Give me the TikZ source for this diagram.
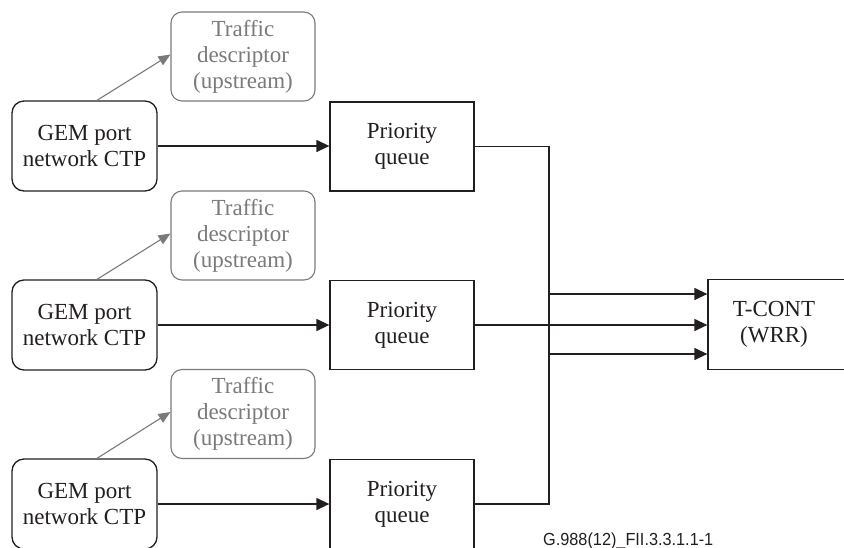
\documentclass[tikz,border=0pt]{standalone}
\usepackage{fontspec}
\setmainfont{Liberation Serif}
\newfontfamily\labelfont{Liberation Sans}
\usetikzlibrary{arrows.meta}
\definecolor{ink}{HTML}{231F20}
\definecolor{greyink}{HTML}{7A7A7A}
\begin{document}
\begin{tikzpicture}[x=1pt,y=-1pt,
  every node/.style={align=center,inner sep=0pt,font=\fontsize{23}{26}\selectfont},
  gembox/.style={draw=ink,line width=1.3pt,rounded corners=12pt,minimum width=145pt,minimum height=90pt,text=ink},
  tdbox/.style={draw=greyink,line width=1.1pt,rounded corners=11pt,minimum width=144pt,minimum height=89pt,text=greyink},
  pqbox/.style={draw=ink,line width=1.3pt,minimum width=144pt,minimum height=89pt,text=ink},
  flow/.style={draw=ink,line width=1.3pt,-{Triangle[length=13pt,width=12pt]}},
  gflow/.style={draw=greyink,line width=1.1pt,-{Triangle[length=12pt,width=10pt]}}]
\useasboundingbox (0,0) rectangle (844,547);
\fill[white] (0,0) rectangle (844,547);
% row 1
\node[tdbox] (td1) at (243,56.5) {Traffic\\descriptor\\(upstream)};
\node[gembox] (gem1) at (84.5,146) {GEM port\\network CTP};
\node[pqbox] (pq1) at (402,146.5) {Priority\\queue};
% row 2
\node[tdbox] (td2) at (243,235.5) {Traffic\\descriptor\\(upstream)};
\node[gembox] (gem2) at (84.5,325) {GEM port\\network CTP};
\node[pqbox] (pq2) at (402,325) {Priority\\queue};
% row 3
\node[tdbox] (td3) at (243,414) {Traffic\\descriptor\\(upstream)};
\node[gembox] (gem3) at (84.5,504) {GEM port\\network CTP};
\node[pqbox] (pq3) at (402,504) {Priority\\queue};
% T-CONT
\node[pqbox,minimum width=140pt,minimum height=90pt,text width=132pt] (tc) at (778,324.5) {\hspace*{-8pt}T-CONT\\\hspace*{-8pt}(WRR)};
% grey arrows
\draw[gflow] ([xshift=12.5pt]gem1.north) -- ([yshift=2pt]td1.west);
\draw[gflow] ([xshift=12.5pt]gem2.north) -- ([yshift=2pt]td2.west);
\draw[gflow] ([xshift=12.5pt]gem3.north) -- ([yshift=2pt]td3.west);
% GEM -> PQ
\draw[flow] (gem1.east) -- (gem1.east -| pq1.west);
\draw[flow] (gem2.east) -- (gem2.east -| pq2.west);
\draw[flow] (gem3.east) -- (gem3.east -| pq3.west);
% PQ -> T-CONT
\coordinate (in1) at ([yshift=-29.5pt]tc.west);
\coordinate (in3) at ([yshift=30.5pt]tc.west);
\draw[flow] (pq1.east) -| (549,0 |- in1) -- (in1);
\draw[flow] (pq2.east) -- (pq2.east -| tc.west);
\draw[flow] (pq3.east) -| (549,0 |- in3) -- (in3);
% figure label
\node[anchor=base west,font=\labelfont\fontsize{17.5}{20}\selectfont,text=ink] (lbl) at (543,545) {\scalebox{0.93}[1]{G.988(12)\_FII.3.3.1.1-1}};
\end{tikzpicture}
\end{document}
